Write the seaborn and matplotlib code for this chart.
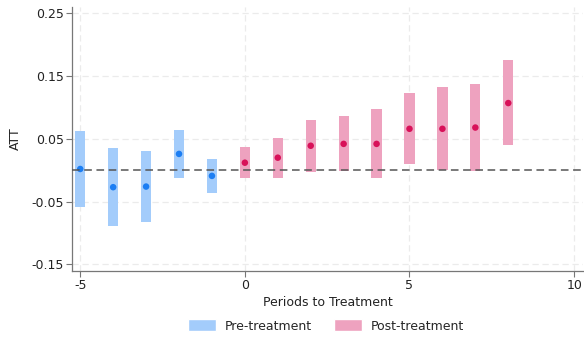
import numpy as np
import pandas as pd
import matplotlib
matplotlib.use("Agg")
import matplotlib.pyplot as plt
from matplotlib.patches import Patch
import seaborn as sns

periods = [-5, -4, -3, -2, -1, 0, 1, 2, 3, 4, 5, 6, 7, 8]
att = [0.002, -0.027, -0.026, 0.026, -0.009, 0.012, 0.020, 0.039, 0.042, 0.042, 0.066, 0.066, 0.068, 0.107]
ci_low = [-0.058, -0.089, -0.083, -0.012, -0.036, -0.012, -0.013, -0.003, -0.001, -0.012, 0.010, 0.001, -0.002, 0.040]
ci_high = [0.062, 0.035, 0.031, 0.064, 0.018, 0.037, 0.052, 0.080, 0.086, 0.097, 0.123, 0.132, 0.138, 0.175]
yticks = [-0.15, -0.05, 0.05, 0.15, 0.25]
xticks = [-5, 0, 5, 10]

df = pd.DataFrame({"period": periods, "att": att, "lo": ci_low, "hi": ci_high})
df["group"] = np.where(df["period"] < 0, "Pre-treatment", "Post-treatment")

sns.set_theme(style="whitegrid")
plt.rcParams["font.family"] = ["DejaVu Sans"]

bar_colors = {"Pre-treatment": "#a3ccfb", "Post-treatment": "#eea2bf"}
pt_colors = {"Pre-treatment": "#1c7ef3", "Post-treatment": "#d81159"}

fig = plt.figure(figsize=(5.84, 3.43), dpi=100)
ax = fig.add_axes([0.1233, 0.2108, 0.875, 0.7688])

for g in ["Pre-treatment", "Post-treatment"]:
    sub = df[df["group"] == g]
    ax.bar(sub["period"], sub["hi"] - sub["lo"], bottom=sub["lo"], width=0.31,
           color=bar_colors[g], edgecolor="none", zorder=2)

sns.scatterplot(data=df, x="period", y="att", hue="group", palette=pt_colors,
                s=22, edgecolor="none", legend=False, ax=ax, zorder=3)

ax.axhline(0, color="#555555", linestyle=(0, (5, 3)), linewidth=1.1, zorder=4)

ax.set_xlim(-5.25, 10.27)
ax.set_ylim(-0.16, 0.26)
ax.set_xticks(xticks)
ax.set_yticks(yticks)
ax.set_xticklabels([str(v) for v in xticks])
ax.set_yticklabels(["-0.15", "-0.05", "0.05", "0.15", "0.25"])
ax.grid(True, color="#ebebeb", linestyle=(0, (5, 3)), linewidth=0.9)
ax.set_facecolor("white")
for s in ["top", "right"]:
    ax.spines[s].set_visible(False)
for s in ["left", "bottom"]:
    ax.spines[s].set_visible(True)
    ax.spines[s].set_color("#777777")
    ax.spines[s].set_linewidth(0.9)
ax.tick_params(axis="both", which="both", length=4, width=0.8, color="#777777",
               labelsize=9, labelcolor="#222222", direction="out",
               bottom=True, left=True, pad=2)
ax.set_xlabel("Periods to Treatment", fontsize=9, color="#222222", labelpad=3)
ax.set_ylabel("ATT", fontsize=9, color="#222222", labelpad=7)

handles = [Patch(facecolor=bar_colors["Pre-treatment"], label="Pre-treatment"),
           Patch(facecolor=bar_colors["Post-treatment"], label="Post-treatment")]
ax.legend(handles=handles, loc="center", bbox_to_anchor=(0.497, -0.21), ncol=2,
          frameon=False, fontsize=9, handlelength=2.25, handleheight=1.1,
          columnspacing=1.7, handletextpad=0.75)

fig.savefig("out.png", dpi=100)
